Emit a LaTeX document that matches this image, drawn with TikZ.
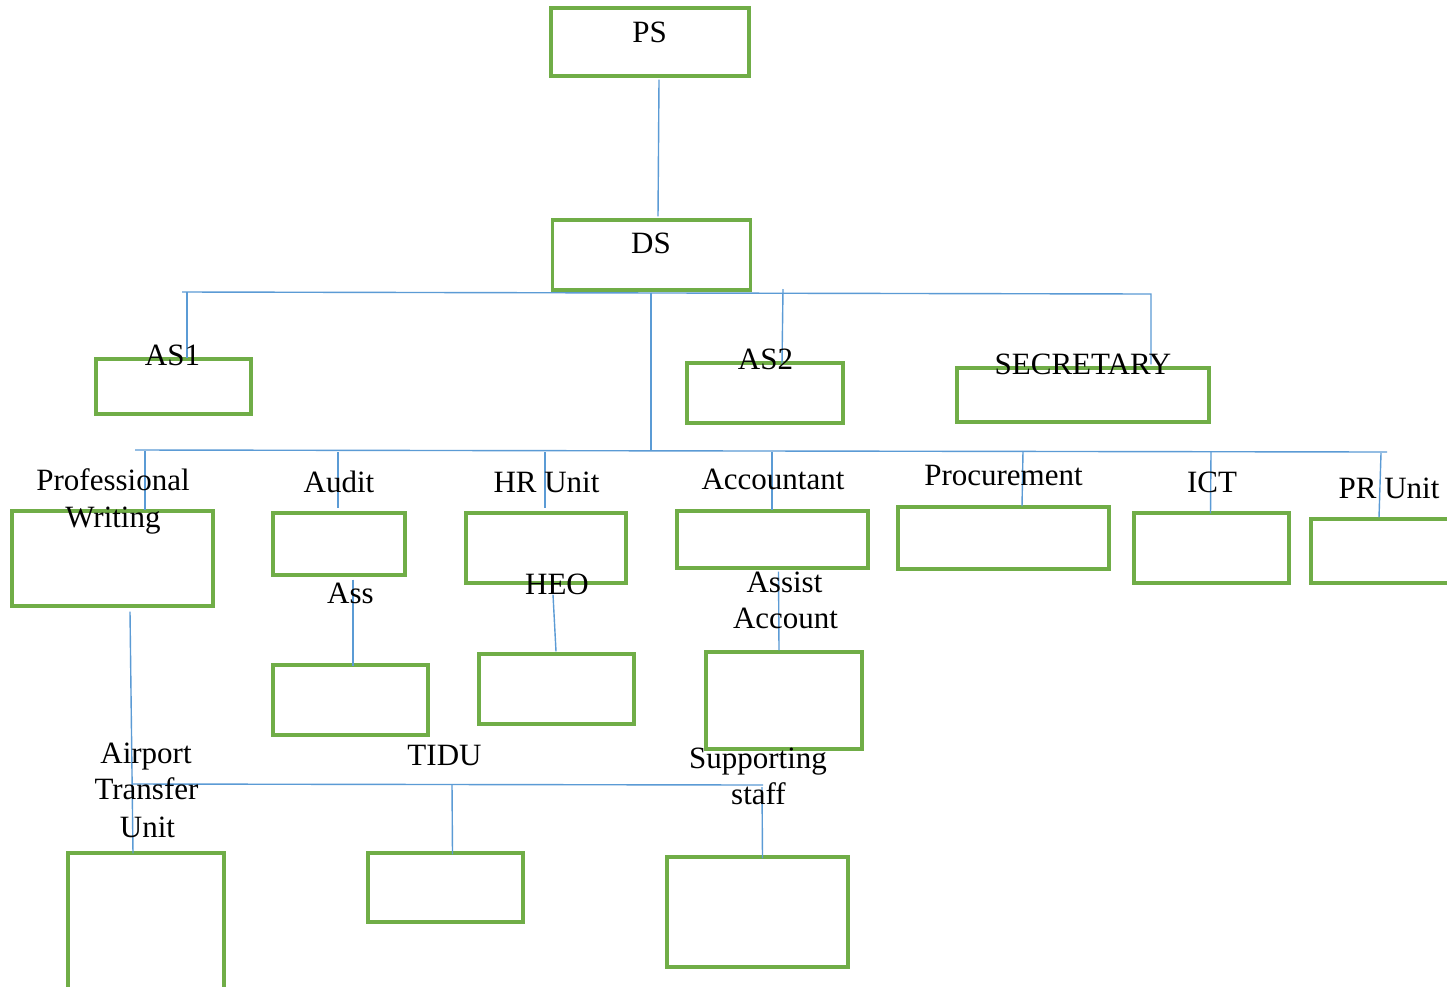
\documentclass[tikz,border=0pt]{standalone}
\usepackage{fontspec}
\setmainfont{Liberation Serif}
\usetikzlibrary{calc}
\definecolor{boxgreen}{HTML}{70AD47}
\definecolor{linkblue}{HTML}{5B9BD5}
\begin{document}
\begin{tikzpicture}[x=1pt,y=-1pt,
  box/.style={draw=boxgreen,line width=3.1pt,rectangle,inner sep=0pt},
  lbl/.style={anchor=base,inner sep=0pt,font=\fontsize{31}{37}\selectfont,text=black},
  conn/.style={draw=linkblue,line width=1.4pt}]
\useasboundingbox (0,0) rectangle (1447,986);
\clip (0,0) rectangle (1447,986);
\fill[white] (0,0) rectangle (1447,986);

% boxes
\node[box,minimum width=198pt,minimum height=68pt] (ps) at (650,42) {};
\node[box,minimum width=198pt,minimum height=70pt] (ds) at (651.5,255) {};
\node[box,minimum width=155pt,minimum height=55pt] (as1) at (173.5,386.5) {};
\node[box,minimum width=156pt,minimum height=60pt] (as2) at (765,393) {};
\node[box,minimum width=252pt,minimum height=54pt] (sec) at (1083,395) {};
\node[box,minimum width=201pt,minimum height=95pt] (pw) at (112.5,558.5) {};
\node[box,minimum width=132pt,minimum height=62pt] (audit) at (339,544) {};
\node[box,minimum width=160pt,minimum height=70pt] (hr) at (546,548) {};
\node[box,minimum width=191pt,minimum height=57pt] (acct) at (772.5,539.5) {};
\node[box,minimum width=211pt,minimum height=62pt] (proc) at (1003.5,538) {};
\node[box,minimum width=155pt,minimum height=70pt] (ict) at (1211.5,548) {};
\node[box,minimum width=159pt,minimum height=64pt] (pr) at (1390.5,551) {};
\node[box,minimum width=155pt,minimum height=70pt] (ass) at (350.5,700) {};
\node[box,minimum width=155pt,minimum height=70pt] (heo) at (556.5,689) {};
\node[box,minimum width=156pt,minimum height=97pt] (aa) at (784,700.5) {};
\node[box,minimum width=156pt,minimum height=154pt] (atu) at (146,930) {};
\node[box,minimum width=155pt,minimum height=69pt] (tidu) at (445.5,887.5) {};
\node[box,minimum width=181pt,minimum height=110pt] (supp) at (757.5,912) {};

% bus coordinates
\coordinate (b1L) at (182,292);
\coordinate (b1R) at (1151,294);
\coordinate (as1T) at (187,292);
\coordinate (as2T) at (783,289);
\coordinate (b2C) at (651,451);
\coordinate (b2L) at (135,450);
\coordinate (b2R) at (1387,452);
\coordinate (pwT) at (145,451);
\coordinate (audT) at (338,452);
\coordinate (hrT) at (545,452);
\coordinate (accT) at (772,452);
\coordinate (procT) at (1023,451);
\coordinate (ictT) at (1211,452);
\coordinate (prT) at (1381,453);
\coordinate (b3L) at (132,784);
\coordinate (b3R) at (763,785);
\coordinate (tiduT) at (452,784);
\coordinate (suppT) at (762,787);

% connectors
\draw[conn] ([xshift=9pt,yshift=-2pt]ps.south) -- ([xshift=6.5pt,yshift=2pt]ds.north);
\draw[conn] (b1L) -- (b1R) -- ([xshift=68pt,yshift=2pt]sec.north);
\draw[conn] (as1T) -- ([xshift=13.5pt,yshift=-1pt]as1.north);
\draw[conn] (as2T) -- ([xshift=17pt,yshift=-2pt]as2.north);
\draw[conn] ([xshift=-0.5pt,yshift=-1pt]ds.south) -- (b2C);
\draw[conn] (b2L) -- (b2R);
\draw[conn] (pwT) -- ([xshift=32.5pt,yshift=-1pt]pw.north);
\draw[conn] (audT) -- ([xshift=-1pt,yshift=3pt]audit.north);
\draw[conn] (hrT) -- ([xshift=-1pt,yshift=3pt]hr.north);
\draw[conn] (accT) -- ([xshift=-0.5pt,yshift=-1pt]acct.north);
\draw[conn] (procT) -- ([xshift=18.5pt,yshift=-1pt]proc.north);
\draw[conn] (ictT) -- ([xshift=-1pt,yshift=-2pt]ict.north);
\draw[conn] (prT) -- ([xshift=-11.5pt]pr.north);
\draw[conn] ([xshift=14pt,yshift=-3pt]audit.south) -- ([xshift=2.5pt,yshift=-3pt]ass.north);
\draw[conn] ([xshift=7pt,yshift=-10pt]hr.south) -- ([xshift=-0.5pt,yshift=1pt]heo.north);
\draw[conn] ([xshift=6pt,yshift=-2pt]acct.south) -- ([xshift=-5pt]aa.north);
\draw[conn] ([xshift=17.5pt,yshift=-4pt]pw.south) -- ([xshift=-13pt,yshift=-2pt]atu.north);
\draw[conn] (b3L) -- (b3R);
\draw[conn] (tiduT) -- ([xshift=7pt,yshift=-3pt]tidu.north);
\draw[conn] (suppT) -- ([xshift=5pt,yshift=-3pt]supp.north);

% labels
\node[lbl] (tPS) at (649.5,42) {PS};
\node[lbl] (tDS) at (651,253) {DS};
\node[lbl] (tAS1) at (172.5,365) {AS1};
\node[lbl] (tAS2) at (765.5,369) {AS2};
\node[lbl] (tSEC) at (1083,374) {SECRETARY};
\node[lbl] (tPW1) at (113,490) {Professional};
\node[lbl] (tPW2) at (113,527) {Writing};
\node[lbl] (tAud) at (339,492) {Audit};
\node[lbl] (tHR) at (546.5,492) {HR Unit};
\node[lbl] (tAcc) at (773,489) {Accountant};
\node[lbl] (tProc) at (1003.5,485) {Procurement};
\node[lbl] (tICT) at (1212,492) {ICT};
\node[lbl] (tPR) at (1389,498) {PR Unit};
\node[lbl] (tAss) at (350.5,603) {Ass};
\node[lbl] (tHEO) at (557,594) {HEO};
\node[lbl] (tAA1) at (784.5,592) {Assist};
\node[lbl] (tAA2) at (785.5,628) {Account};
\node[lbl] (tATU1) at (146,763) {Airport};
\node[lbl] (tATU2) at (146.5,799) {Transfer};
\node[lbl] (tATU3) at (147.5,837) {Unit};
\node[lbl] (tTIDU) at (444.5,765) {TIDU};
\node[lbl] (tSS1) at (758,768) {Supporting};
\node[lbl] (tSS2) at (758.5,804) {staff};
\end{tikzpicture}
\end{document}
